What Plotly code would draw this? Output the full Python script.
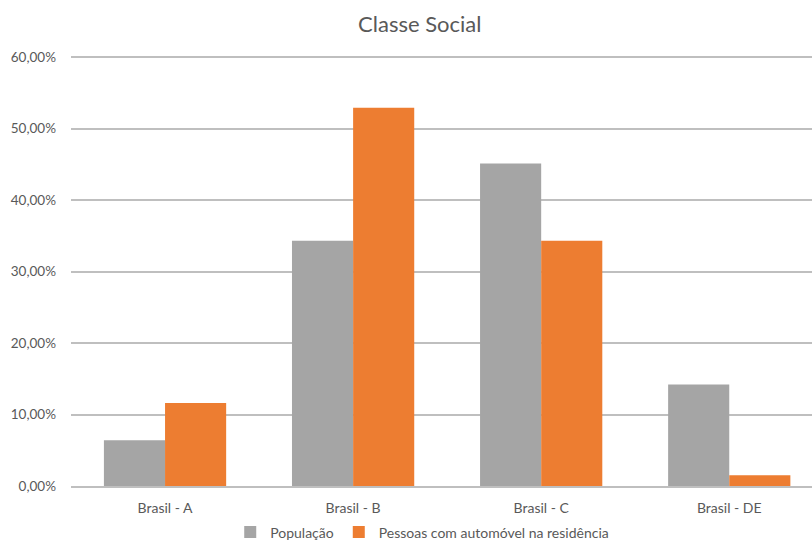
import plotly.graph_objects as go

categorias = ["Brasil - A", "Brasil - B", "Brasil - C", "Brasil - DE"]
populacao = [0.064, 0.343, 0.451, 0.142]
com_automovel = [0.116, 0.529, 0.343, 0.015]

fonte = "Lato"
cinza_texto = "#595959"

fig = go.Figure()
fig.add_trace(go.Bar(
    x=categorias, y=populacao, name="População",
    marker=dict(color="#A5A5A5", line=dict(width=0)),
))
fig.add_trace(go.Bar(
    x=categorias, y=com_automovel, name="Pessoas com automóvel na residência",
    marker=dict(color="#ED7D31", line=dict(width=0)),
))

fig.update_layout(
    width=812, height=542,
    margin=dict(l=71, r=0, t=56, b=56, autoexpand=False),
    paper_bgcolor="white", plot_bgcolor="white",
    separators=",.",
    barmode="group", bargap=0.35, bargroupgap=0,
    font=dict(family=fonte, size=13, color=cinza_texto),
    title=dict(text="Classe Social", x=0.517, xanchor="center", y=0.955, yanchor="middle",
               font=dict(family=fonte, size=22, color=cinza_texto)),
    legend=dict(orientation="h", x=0.474, xanchor="center", y=-0.108, yanchor="middle",
                font=dict(family=fonte, size=14, color=cinza_texto),
                itemwidth=30, traceorder="normal"),
    xaxis=dict(range=[-0.5, 3.44], showgrid=False, showline=True, linecolor="#BFBFBF",
               linewidth=1.5, ticks="", ticklabelstandoff=8,
               tickfont=dict(family=fonte, size=14, color=cinza_texto)),
    yaxis=dict(range=[0, 0.6015], tick0=0, dtick=0.1, tickformat=".2%", showgrid=True,
               gridcolor="#BFBFBF", gridwidth=1.5, zeroline=False, showline=False,
               ticks="", ticklabelstandoff=14,
               tickfont=dict(family=fonte, size=13.5, color=cinza_texto)),
)

fig.write_html("out.html")
